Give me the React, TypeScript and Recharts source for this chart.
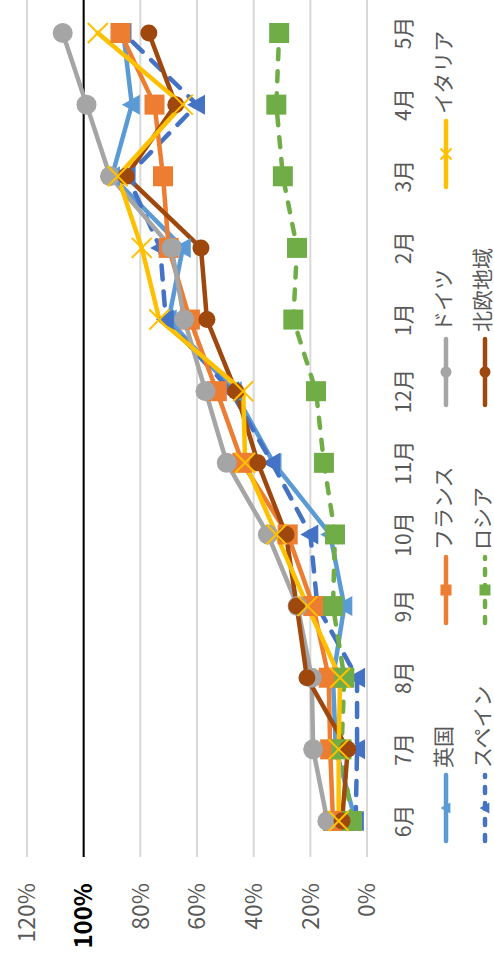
// App.tsx
// Monthly progress per region (6月 → 5月), drawn as an Excel-style line chart
// and turned 90° counter-clockwise to match the reference picture.

import * as React from "react";
import {
  LineChart,
  Line,
  XAxis,
  YAxis,
  CartesianGrid,
  Legend,
  ReferenceLine,
} from "recharts";

const MONTHS = ["6月", "7月", "8月", "9月", "10月", "11月", "12月", "1月", "2月", "3月", "4月", "5月"];
const VALUE_TICKS = [0, 0.2, 0.4, 0.6, 0.8, 1, 1.2];

const UK = [0.04, 0.11, 0.12, 0.08, 0.13, 0.33, 0.47, 0.7, 0.65, 0.9, 0.83, 0.86];
const SPAIN = [0.04, 0.035, 0.035, 0.175, 0.2, 0.335, 0.48, 0.71, 0.73, 0.845, 0.6, 0.86];
const FRANCE = [0.12, 0.13, 0.135, 0.19, 0.28, 0.44, 0.53, 0.625, 0.7, 0.72, 0.75, 0.87];
const RUSSIA = [0.053, 0.09, 0.08, 0.12, 0.113, 0.152, 0.18, 0.26, 0.247, 0.297, 0.32, 0.31];
const GERMANY = [0.14, 0.19, 0.195, 0.245, 0.35, 0.495, 0.57, 0.645, 0.69, 0.907, 0.99, 1.074];
const NORDIC = [0.088, 0.068, 0.212, 0.248, 0.286, 0.385, 0.463, 0.565, 0.586, 0.85, 0.675, 0.77];
const ITALY = [0.1, 0.1, 0.095, 0.21, 0.32, 0.43, 0.437, 0.733, 0.795, 0.88, 0.65, 0.95];

type MarkerShape = "triangle" | "square" | "circle" | "cross";

interface ISeries {
  key: string;
  name: string;
  values: number[];
  color: string;
  dash?: string;
  marker: MarkerShape;
  size: number;
}

// legend order in Excel is column-major, same as series order
const SERIES: ISeries[] = [
  { key: "uk", name: "英国", values: UK, color: "#5B9BD5", marker: "triangle", size: 20 },
  { key: "es", name: "スペイン", values: SPAIN, color: "#4472C4", dash: "14 12", marker: "triangle", size: 20 },
  { key: "fr", name: "フランス", values: FRANCE, color: "#ED7D31", marker: "square", size: 20 },
  { key: "ru", name: "ロシア", values: RUSSIA, color: "#70AD47", dash: "10 12", marker: "square", size: 20 },
  { key: "de", name: "ドイツ", values: GERMANY, color: "#A5A5A5", marker: "circle", size: 20 },
  { key: "no", name: "北欧地域", values: NORDIC, color: "#9E480E", marker: "circle", size: 17 },
  { key: "it", name: "イタリア", values: ITALY, color: "#FFC000", marker: "cross", size: 20 },
];

const data = MONTHS.map((m, i) => {
  const row: Record<string, string | number> = { month: m };
  SERIES.forEach((s) => {
    row[s.key] = s.values[i];
  });
  return row;
});

const FONT = "'Noto Sans CJK JP', 'Noto Sans', sans-serif";
const TEXT = "#595959";
const GRID = "#D9D9D9";

function markerPath(shape: MarkerShape, cx: number, cy: number, size: number, color: string) {
  const h = size / 2;
  if (shape === "triangle") {
    return (
      <polygon
        points={`${cx},${cy - h} ${cx + h},${cy + h * 0.8} ${cx - h},${cy + h * 0.8}`}
        fill={color}
      />
    );
  }
  if (shape === "square") {
    return <rect x={cx - h} y={cy - h} width={size} height={size} fill={color} />;
  }
  if (shape === "circle") {
    return <circle cx={cx} cy={cy} r={h} fill={color} />;
  }
  return (
    <g stroke={color} strokeWidth={2}>
      <line x1={cx - h} y1={cy - h} x2={cx + h} y2={cy + h} />
      <line x1={cx - h} y1={cy + h} x2={cx + h} y2={cy - h} />
    </g>
  );
}

const makeDot = (s: ISeries) => (p: any) => {
  if (p.cx == null || p.cy == null) return <g key={`${s.key}-${p.index}`} />;
  return <g key={`${s.key}-${p.index}`}>{markerPath(s.marker, p.cx, p.cy, s.size, s.color)}</g>;
};

const ValueTick = (props: any) => {
  const { x, y, payload } = props;
  const v = payload.value as number;
  const isHundred = Math.abs(v - 1) < 1e-6;
  return (
    <text
      x={x}
      y={y}
      dy="0.36em"
      textAnchor="end"
      fontSize={isHundred ? 24 : 23}
      fontWeight={isHundred ? 700 : 400}
      fill={isHundred ? "#000000" : TEXT}
      fontFamily={FONT}
    >
      {Math.round(v * 100)}%
    </text>
  );
};

const renderLegend = () => (
  <div
    style={{
      display: "grid",
      gridTemplateRows: "39px 39px",
      gridAutoFlow: "column",
      gridAutoColumns: "218px",
      paddingLeft: 117,
      fontFamily: FONT,
      fontSize: 21,
      lineHeight: "24px",
      color: TEXT,
    }}
  >
    {SERIES.map((s) => (
      <div key={s.key} style={{ display: "flex", alignItems: "center", height: 39 }}>
        <svg width={74} height={20} style={{ flex: "none" }}>
          <line
            x1={4}
            y1={10}
            x2={70}
            y2={10}
            stroke={s.color}
            strokeWidth={4.5}
            strokeLinecap="round"
            strokeDasharray={s.dash ? "6 10" : undefined}
          />
          {markerPath(s.marker, 37, 10, 11, s.color)}
        </svg>
        <span style={{ marginLeft: 3, whiteSpace: "nowrap", position: "relative", top: -4 }}>{s.name}</span>
      </div>
    ))}
  </div>
);

const App: React.FC = () => {
  return (
    <div
      style={{
        position: "absolute",
        left: 0,
        top: 0,
        width: 494,
        height: 962,
        overflow: "hidden",
        background: "#ffffff",
      }}
    >
      <div
        style={{
          position: "absolute",
          left: 0,
          top: 0,
          width: 969,
          height: 494,
          transformOrigin: "0 0",
          transform: "translateY(962px) rotate(-90deg)",
          fontFamily: FONT,
        }}
      >
        <LineChart width={969} height={494} data={data} margin={{ top: 27, right: 0, bottom: 67, left: 0 }}>
          <CartesianGrid vertical={false} stroke={GRID} strokeWidth={2} />
          <XAxis
            dataKey="month"
            axisLine={false}
            tickLine={false}
            tickSize={0}
            tickMargin={29}
            height={60}
            interval={0}
            padding={{ left: 36, right: 40 }}
            tick={{ fontSize: 21, fill: TEXT, fontFamily: FONT }}
          />
          <YAxis
            domain={[0, 1.2]}
            ticks={VALUE_TICKS}
            width={105}
            axisLine={false}
            tickLine={false}
            tickSize={0}
            tickMargin={26}
            tick={<ValueTick />}
            interval={0}
          />
          <ReferenceLine y={1} stroke="#000000" strokeWidth={2} />
          <Legend
            layout="horizontal"
            verticalAlign="middle"
            align="center"
            wrapperStyle={{ top: 426, left: 0, width: 969 }}
            content={renderLegend}
          />
          {SERIES.map((s) => (
            <Line
              key={s.key}
              dataKey={s.key}
              name={s.name}
              type="linear"
              stroke={s.color}
              strokeWidth={4.5}
              strokeLinecap="round"
              strokeLinejoin="round"
              strokeDasharray={s.dash}
              dot={makeDot(s)}
              activeDot={false}
              isAnimationActive={false}
            />
          ))}
        </LineChart>
      </div>
    </div>
  );
};

export default App;
